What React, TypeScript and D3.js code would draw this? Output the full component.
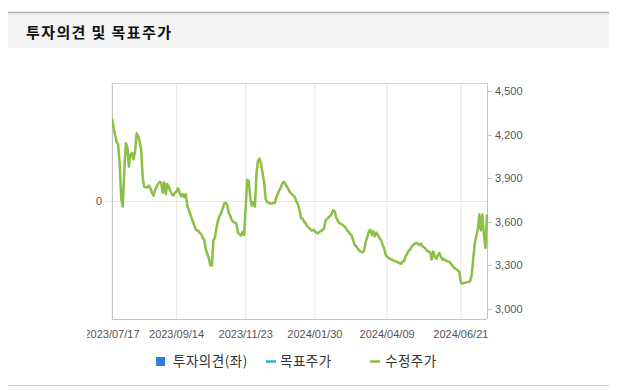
import React from "react";
import * as d3 from "d3";

// ---------- DATA ----------
const title = "투자의견 및 목표주가";
const startDate = "2023-07-17";
const endDate = "2024-07-16";
const marketHolidays = [
  "2023-08-15", "2023-09-28", "2023-09-29", "2023-10-02", "2023-10-03", "2023-10-09",
  "2023-12-25", "2023-12-29", "2024-01-01", "2024-02-09", "2024-02-12", "2024-03-01",
  "2024-04-10", "2024-05-01", "2024-05-06", "2024-05-15", "2024-06-06",
];
const xTickLabels = ["2023/07/17", "2023/09/14", "2023/11/23", "2024/01/30", "2024/04/09", "2024/06/21"];
const rightTicks = [3000, 3300, 3600, 3900, 4200, 4500];
const leftTicks = [0];
const legendItems = ["투자의견(좌)", "목표주가", "수정주가"];

// adjusted price (수정주가), one value per trading day
const adjPrice = [
  4310, 4250, 4195, 4150, 4130, 4000, 3760, 3705, 3950, 4140,
  4115, 3980, 4060, 4075, 4030, 4080, 4210, 4190, 4150, 4095,
  3900, 3840, 3840, 3835, 3850, 3830, 3800, 3780, 3820, 3840,
  3860, 3875, 3870, 3800, 3870, 3790, 3860, 3840, 3810, 3790,
  3780, 3800, 3810, 3830, 3800, 3775, 3790, 3770, 3790, 3710,
  3680, 3650, 3620, 3590, 3560, 3540, 3540, 3525, 3515, 3490,
  3475, 3410, 3380, 3350, 3300, 3300, 3475, 3490, 3560, 3610,
  3640, 3660, 3690, 3725, 3730, 3715, 3660, 3640, 3610, 3600,
  3595, 3585, 3525, 3515, 3505, 3530, 3510, 3700, 3890, 3880,
  3760, 3710, 3735, 3705, 3930, 4020, 4035, 4000, 3930, 3870,
  3755, 3735, 3730, 3725, 3725, 3730, 3730, 3770, 3795, 3820,
  3840, 3870, 3875, 3855, 3840, 3820, 3800, 3790, 3780, 3770,
  3740, 3720, 3680, 3625, 3620, 3600, 3590, 3570, 3560, 3550,
  3540, 3545, 3535, 3525, 3520, 3530, 3535, 3545, 3555, 3610,
  3620, 3630, 3640, 3660, 3680, 3670, 3625, 3605, 3590, 3585,
  3580, 3570, 3560, 3540, 3530, 3515, 3505, 3470, 3440, 3430,
  3415, 3400, 3395, 3390, 3400, 3460, 3490, 3530, 3545, 3510,
  3535, 3500, 3525, 3510, 3490, 3475, 3445, 3420, 3375, 3360,
  3350, 3345, 3340, 3335, 3330, 3325, 3320, 3315, 3310, 3325,
  3330, 3360, 3380, 3400, 3410, 3430, 3440, 3450, 3455, 3450,
  3440, 3450, 3430, 3425, 3415, 3400, 3395, 3390, 3340, 3395,
  3360, 3345, 3370, 3385, 3360, 3340, 3345, 3335, 3330, 3325,
  3320, 3305, 3290, 3280, 3275, 3265, 3255, 3180, 3175, 3180,
  3180, 3185, 3185, 3190, 3230, 3340, 3450, 3500, 3545, 3650,
  3540, 3650, 3510, 3420, 3650,
];

// ---------- LAYOUT ----------
const W = 620, H = 391;
const plot = { left: 112, right: 487, top: 83, bottom: 319 };
const COLORS = {
  price: "#8cbf45",
  target: "#2bb5c8",
  opinion: "#2f7ed8",
  grid: "#e6e6e6",
  axis: "#c4c4c4",
  text: "#555555",
};

const fmtKey = d3.timeFormat("%Y/%m/%d");
const parse = d3.timeParse("%Y-%m-%d");
const holidaySet = new Set(marketHolidays);
const tradingDays = d3.timeDay
  .range(parse(startDate)!, d3.timeDay.offset(parse(endDate)!, 1))
  .filter((d) => d.getDay() !== 0 && d.getDay() !== 6 && !holidaySet.has(d3.timeFormat("%Y-%m-%d")(d)))
  .map(fmtKey);

export default function App() {
  const x = d3.scalePoint<string>().domain(tradingDays).range([plot.left, plot.right]);
  const yR = d3.scaleLinear().domain([2931, 4555]).range([plot.bottom, plot.top]);
  const yL = d3.scaleLinear().domain([-1, 1]).range([plot.bottom, plot.top]);

  const n = Math.min(adjPrice.length, tradingDays.length);
  const pts: [string, number][] = d3.range(n).map((i) => [tradingDays[i], adjPrice[i]]);
  const line = d3
    .line<[string, number]>()
    .x((d) => x(d[0])!)
    .y((d) => yR(d[1]))
    .curve(d3.curveLinear);

  const numFmt = d3.format(",");
  const numFont = "'Liberation Sans', Arial, sans-serif";
  const krFont = "'Noto Sans CJK KR', 'Noto Sans', sans-serif";

  return (
    <div style={{ position: "absolute", left: 0, top: 0, width: W, height: H, background: "#fff" }}>
      <svg width={W} height={H} viewBox={`0 0 ${W} ${H}`} style={{ display: "block" }}>
        <defs>
          <clipPath id="xlabClip">
            <rect x={87} y={0} width={W - 87} height={H} />
          </clipPath>
          <clipPath id="plotClip">
            <rect x={plot.left} y={plot.top - 2} width={plot.right - plot.left + 1} height={plot.bottom - plot.top + 4} />
          </clipPath>
        </defs>

        {/* header */}
        <rect x={8} y={12} width={601} height={36} fill="#f4f4f4" />
        <line x1={8} x2={609} y1={12.5} y2={12.5} stroke="#b0b0b0" strokeWidth={1.5} />
        <text x={26} y={38} fontFamily={krFont} fontWeight="bold" fontSize={15} letterSpacing={1.4} fill="#111">
          {title}
        </text>
        <line x1={8} x2={609} y1={385.5} y2={385.5} stroke="#d0d0d0" strokeWidth={1} />

        {/* gridlines */}
        {xTickLabels.map((t) => (
          <line key={t} x1={x(t)} x2={x(t)} y1={plot.top} y2={plot.bottom} stroke={COLORS.grid} strokeWidth={1} />
        ))}
        {leftTicks.map((t) => (
          <line key={"lg" + t} x1={plot.left - 6} x2={plot.right} y1={Math.round(yL(t)) + 0.5} y2={Math.round(yL(t)) + 0.5} stroke={COLORS.grid} strokeWidth={1} />
        ))}

        {/* plot frame */}
        <line x1={plot.left} x2={plot.right} y1={plot.top + 0.5} y2={plot.top + 0.5} stroke="#d4d4d4" />
        <line x1={plot.left + 0.5} x2={plot.left + 0.5} y1={plot.top} y2={plot.bottom} stroke={COLORS.axis} />
        <line x1={plot.right + 0.5} x2={plot.right + 0.5} y1={plot.top} y2={plot.bottom} stroke={COLORS.axis} />
        <line x1={plot.left} x2={plot.right} y1={plot.bottom + 0.5} y2={plot.bottom + 0.5} stroke={COLORS.axis} />

        {/* right axis */}
        {rightTicks.map((t) => (
          <g key={"r" + t}>
            <line x1={plot.right} x2={plot.right + 5} y1={Math.round(yR(t)) + 0.5} y2={Math.round(yR(t)) + 0.5} stroke={COLORS.axis} />
            <text x={plot.right + 8} y={yR(t) + 4} fontFamily={numFont} fontSize={11} fill={COLORS.text}>
              {numFmt(t)}
            </text>
          </g>
        ))}

        {/* left axis */}
        {leftTicks.map((t) => (
          <text key={"l" + t} x={plot.left - 10} y={yL(t) + 4} textAnchor="end" fontFamily={numFont} fontSize={11} fill={COLORS.text}>
            {t}
          </text>
        ))}

        {/* x axis labels */}
        <g clipPath="url(#xlabClip)">
          {xTickLabels.map((t) => (
            <text key={"x" + t} x={x(t)} y={338} textAnchor="middle" fontFamily={numFont} fontSize={11} fill={COLORS.text}>
              {t}
            </text>
          ))}
        </g>

        {/* price line */}
        <path d={line(pts) || ""} fill="none" stroke={COLORS.price} strokeWidth={2.5} strokeLinejoin="round" clipPath="url(#plotClip)" />

        {/* legend */}
        <rect x={156} y={357} width={9} height={9} fill={COLORS.opinion} />
        <text x={173} y={366} fontFamily={krFont} fontSize={13.5} letterSpacing={0.5} fill="#333">{legendItems[0]}</text>
        <line x1={266} x2={276} y1={361.5} y2={361.5} stroke={COLORS.target} strokeWidth={2.5} />
        <text x={280} y={366} fontFamily={krFont} fontSize={13.5} letterSpacing={0.5} fill="#333">{legendItems[1]}</text>
        <line x1={370} x2={380} y1={361.5} y2={361.5} stroke={COLORS.price} strokeWidth={2.5} />
        <text x={385} y={366} fontFamily={krFont} fontSize={13.5} letterSpacing={0.5} fill="#333">{legendItems[2]}</text>
      </svg>
    </div>
  );
}
